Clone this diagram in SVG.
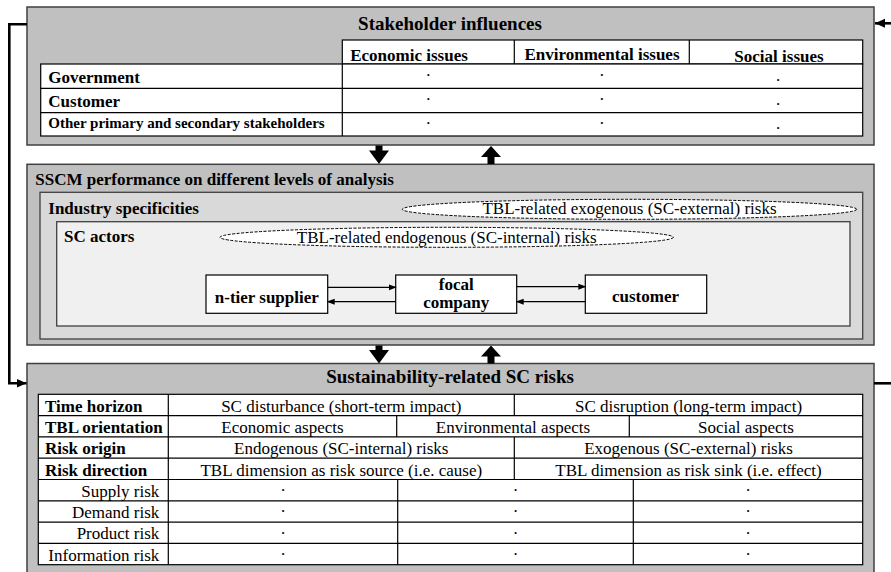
<svg xmlns="http://www.w3.org/2000/svg" width="891" height="572" viewBox="0 0 891 572" font-family="'Liberation Serif', 'DejaVu Serif', serif">
<defs>
<style>
.box{fill:#c0c0c0;stroke:#404040;stroke-width:1.5}
.ind{fill:#d9d9d9;stroke:#404040;stroke-width:1.3}
.act{fill:#f0f0f0;stroke:#404040;stroke-width:1.3}
.cell{fill:#fff;stroke:#000;stroke-width:1.2}
.ln{stroke:#000;stroke-width:1.2;fill:none}
.t{font-family:'Liberation Serif','DejaVu Serif',serif;fill:#000;font-size:17px}
.b{font-weight:bold}
.c{text-anchor:middle}
.r{text-anchor:end}
.ell{fill:#fff;stroke:#000;stroke-width:1;stroke-dasharray:3,1.5}
.nd{fill:#fff;stroke:#000;stroke-width:1.2}
.fb{stroke:#000;stroke-width:2.6;fill:none}
.sa{stroke:#000;stroke-width:1.3;fill:none}
</style>
<marker id="ah" markerWidth="8" markerHeight="8" refX="7" refY="4" orient="auto" markerUnits="userSpaceOnUse" viewBox="0 0 8 8">
<path d="M0,1 L8,4 L0,7 Z" fill="#000"/>
</marker>
<marker id="fh" markerWidth="10" markerHeight="10" refX="10" refY="5" orient="auto" markerUnits="userSpaceOnUse" viewBox="0 0 10 10">
<path d="M0,0.5 L10,5 L0,9.5 Z" fill="#000"/>
</marker>
</defs>

<g id="stakeholder-influences">
<rect class="box" x="27" y="7" width="847" height="138"/>
<text class="t b c" x="450" y="30" style="font-size:19px">Stakeholder influences</text>
<rect class="cell" x="342.3" y="40" width="520.4" height="24"/>
<line class="ln" x1="514.3" y1="40" x2="514.3" y2="136"/>
<line class="ln" x1="689.3" y1="40" x2="689.3" y2="136"/>
<rect class="cell" x="40.7" y="64" width="822" height="72"/>
<line class="ln" x1="40.7" y1="88.3" x2="862.7" y2="88.3"/>
<line class="ln" x1="40.7" y1="112.6" x2="862.7" y2="112.6"/>
<line class="ln" x1="342.3" y1="64" x2="342.3" y2="136"/>
<text class="t b c" x="409" y="60.5">Economic issues</text>
<text class="t b c" x="602" y="60">Environmental issues</text>
<text class="t b c" x="779" y="61.5">Social issues</text>
<text class="t b" x="48.3" y="83.3">Government</text>
<text class="t b" x="48.3" y="107.3">Customer</text>
<text class="t b" x="48.3" y="128.3" style="font-size:15px">Other primary and secondary stakeholders</text>
<g class="t c">
<text x="428.3" y="81">·</text><text x="601.8" y="81">·</text><text x="778" y="81">.</text>
<text x="428.3" y="105">·</text><text x="601.8" y="105">·</text><text x="778" y="105">.</text>
<text x="428.3" y="129.3">·</text><text x="601.8" y="129.3">·</text><text x="778" y="129.3">.</text>
</g>
</g>

<g id="sscm-performance">
<rect class="box" x="27" y="164.3" width="847" height="180.7"/>
<text class="t b" x="35.3" y="184.5">SSCM performance on different levels of analysis</text>
</g>

<g id="industry-specificities">
<rect class="ind" x="40" y="192.3" width="822.7" height="146.7"/>
<text class="t b" x="48.3" y="213.5">Industry specificities</text>
<ellipse class="ell" cx="629.5" cy="209.3" rx="227.2" ry="10"/>
<text class="t c" x="629.5" y="213.7">TBL-related exogenous (SC-external) risks</text>
</g>

<g id="sc-actors">
<rect class="act" x="56.7" y="221.7" width="793.3" height="104.3"/>
<text class="t b" x="64" y="242">SC actors</text>
<ellipse class="ell" cx="446.7" cy="237.3" rx="226.7" ry="10"/>
<text class="t c" x="446.7" y="242.5">TBL-related endogenous (SC-internal) risks</text>
</g>

<g id="n-tier-supplier">
<rect class="nd" x="206" y="275" width="121.7" height="38.3"/>
<text class="t b c" x="266.8" y="303">n-tier supplier</text>
</g>
<g id="focal-company">
<rect class="nd" x="395.7" y="275" width="121" height="38.3"/>
<text class="t b c" x="456.2" y="290">focal</text>
<text class="t b c" x="456.2" y="308">company</text>
</g>
<g id="customer">
<rect class="nd" x="585.3" y="275" width="121.4" height="38.3"/>
<text class="t b c" x="645.5" y="301.7">customer</text>
</g>

<g id="sustainability-risks">
<rect class="box" x="27" y="363.5" width="847" height="220"/>
<text class="t b c" x="450" y="383.3" style="font-size:19px">Sustainability-related SC risks</text>
<rect class="cell" x="38.3" y="394.3" width="824.4" height="170.4"/>
<g class="ln">
<line x1="38.3" y1="415.6" x2="862.7" y2="415.6"/>
<line x1="38.3" y1="436.9" x2="862.7" y2="436.9"/>
<line x1="38.3" y1="458.2" x2="862.7" y2="458.2"/>
<line x1="38.3" y1="479.5" x2="862.7" y2="479.5"/>
<line x1="38.3" y1="500.8" x2="862.7" y2="500.8"/>
<line x1="38.3" y1="522.1" x2="862.7" y2="522.1"/>
<line x1="38.3" y1="543.4" x2="862.7" y2="543.4"/>
<line x1="168.3" y1="394.3" x2="168.3" y2="564.7"/>
<line x1="514.3" y1="394.3" x2="514.3" y2="415.6"/>
<line x1="396.7" y1="415.6" x2="396.7" y2="436.9"/>
<line x1="629.3" y1="415.6" x2="629.3" y2="436.9"/>
<line x1="514.3" y1="436.9" x2="514.3" y2="479.5"/>
<line x1="397.7" y1="479.5" x2="397.7" y2="564.7"/>
<line x1="633.3" y1="479.5" x2="633.3" y2="564.7"/>
</g>
<g class="t b">
<text x="45" y="411.6">Time horizon</text>
<text x="45" y="432.9">TBL orientation</text>
<text x="45" y="454.2">Risk origin</text>
<text x="45" y="475.5">Risk direction</text>
</g>
<g class="t r">
<text x="159.3" y="496.8">Supply risk</text>
<text x="159.3" y="518.1">Demand risk</text>
<text x="159.3" y="539.4">Product risk</text>
<text x="159.3" y="560.7">Information risk</text>
</g>
<g class="t c">
<text x="341.3" y="411.6">SC disturbance (short-term impact)</text>
<text x="688.5" y="411.6">SC disruption (long-term impact)</text>
<text x="282.5" y="432.9">Economic aspects</text>
<text x="513" y="432.9">Environmental aspects</text>
<text x="746" y="432.9">Social aspects</text>
<text x="341.3" y="454.2">Endogenous (SC-internal) risks</text>
<text x="688.5" y="454.2">Exogenous (SC-external) risks</text>
<text x="341.3" y="475.5">TBL dimension as risk source (i.e. cause)</text>
<text x="688.5" y="475.5">TBL dimension as risk sink (i.e. effect)</text>
<text x="283" y="496">·</text><text x="515.5" y="496">·</text><text x="748" y="496">·</text>
<text x="283" y="517.3">·</text><text x="515.5" y="517.3">·</text><text x="748" y="517.3">·</text>
<text x="283" y="538.6">·</text><text x="515.5" y="538.6">·</text><text x="748" y="538.6">·</text>
<text x="283" y="559.9">·</text><text x="515.5" y="559.9">·</text><text x="748" y="559.9">·</text>
</g>
</g>

<g id="connectors">
<path d="M375.5,145.5 h7 v5 h6.5 l-10,13.5 l-10,-13.5 h6.5 z" fill="#000"/>
<path d="M487.5,164 h7 v-7 h6.5 l-10,-11 l-10,11 h6.5 z" fill="#000"/>
<path d="M375.5,345.5 h7 v4.5 h6.5 l-10,13.5 l-10,-13.5 h6.5 z" fill="#000"/>
<path d="M487.5,363.5 h7 v-7 h6.5 l-10,-11 l-10,11 h6.5 z" fill="#000"/>
<polyline class="fb" points="27,24.3 9.3,24.3 9.3,383.3 26.5,383.3" marker-end="url(#fh)"/>
<line class="fb" x1="891" y1="23.3" x2="875" y2="23.3" marker-end="url(#fh)"/>
<line class="fb" x1="874" y1="383.3" x2="891" y2="383.3"/>
<line class="sa" x1="327.7" y1="287.3" x2="395.7" y2="287.3" marker-end="url(#ah)"/>
<line class="sa" x1="395.7" y1="301.7" x2="327.7" y2="301.7" marker-end="url(#ah)"/>
<line class="sa" x1="516.7" y1="286.7" x2="585.3" y2="286.7" marker-end="url(#ah)"/>
<line class="sa" x1="585.3" y1="301.7" x2="516.7" y2="301.7" marker-end="url(#ah)"/>
</g>
</svg>
